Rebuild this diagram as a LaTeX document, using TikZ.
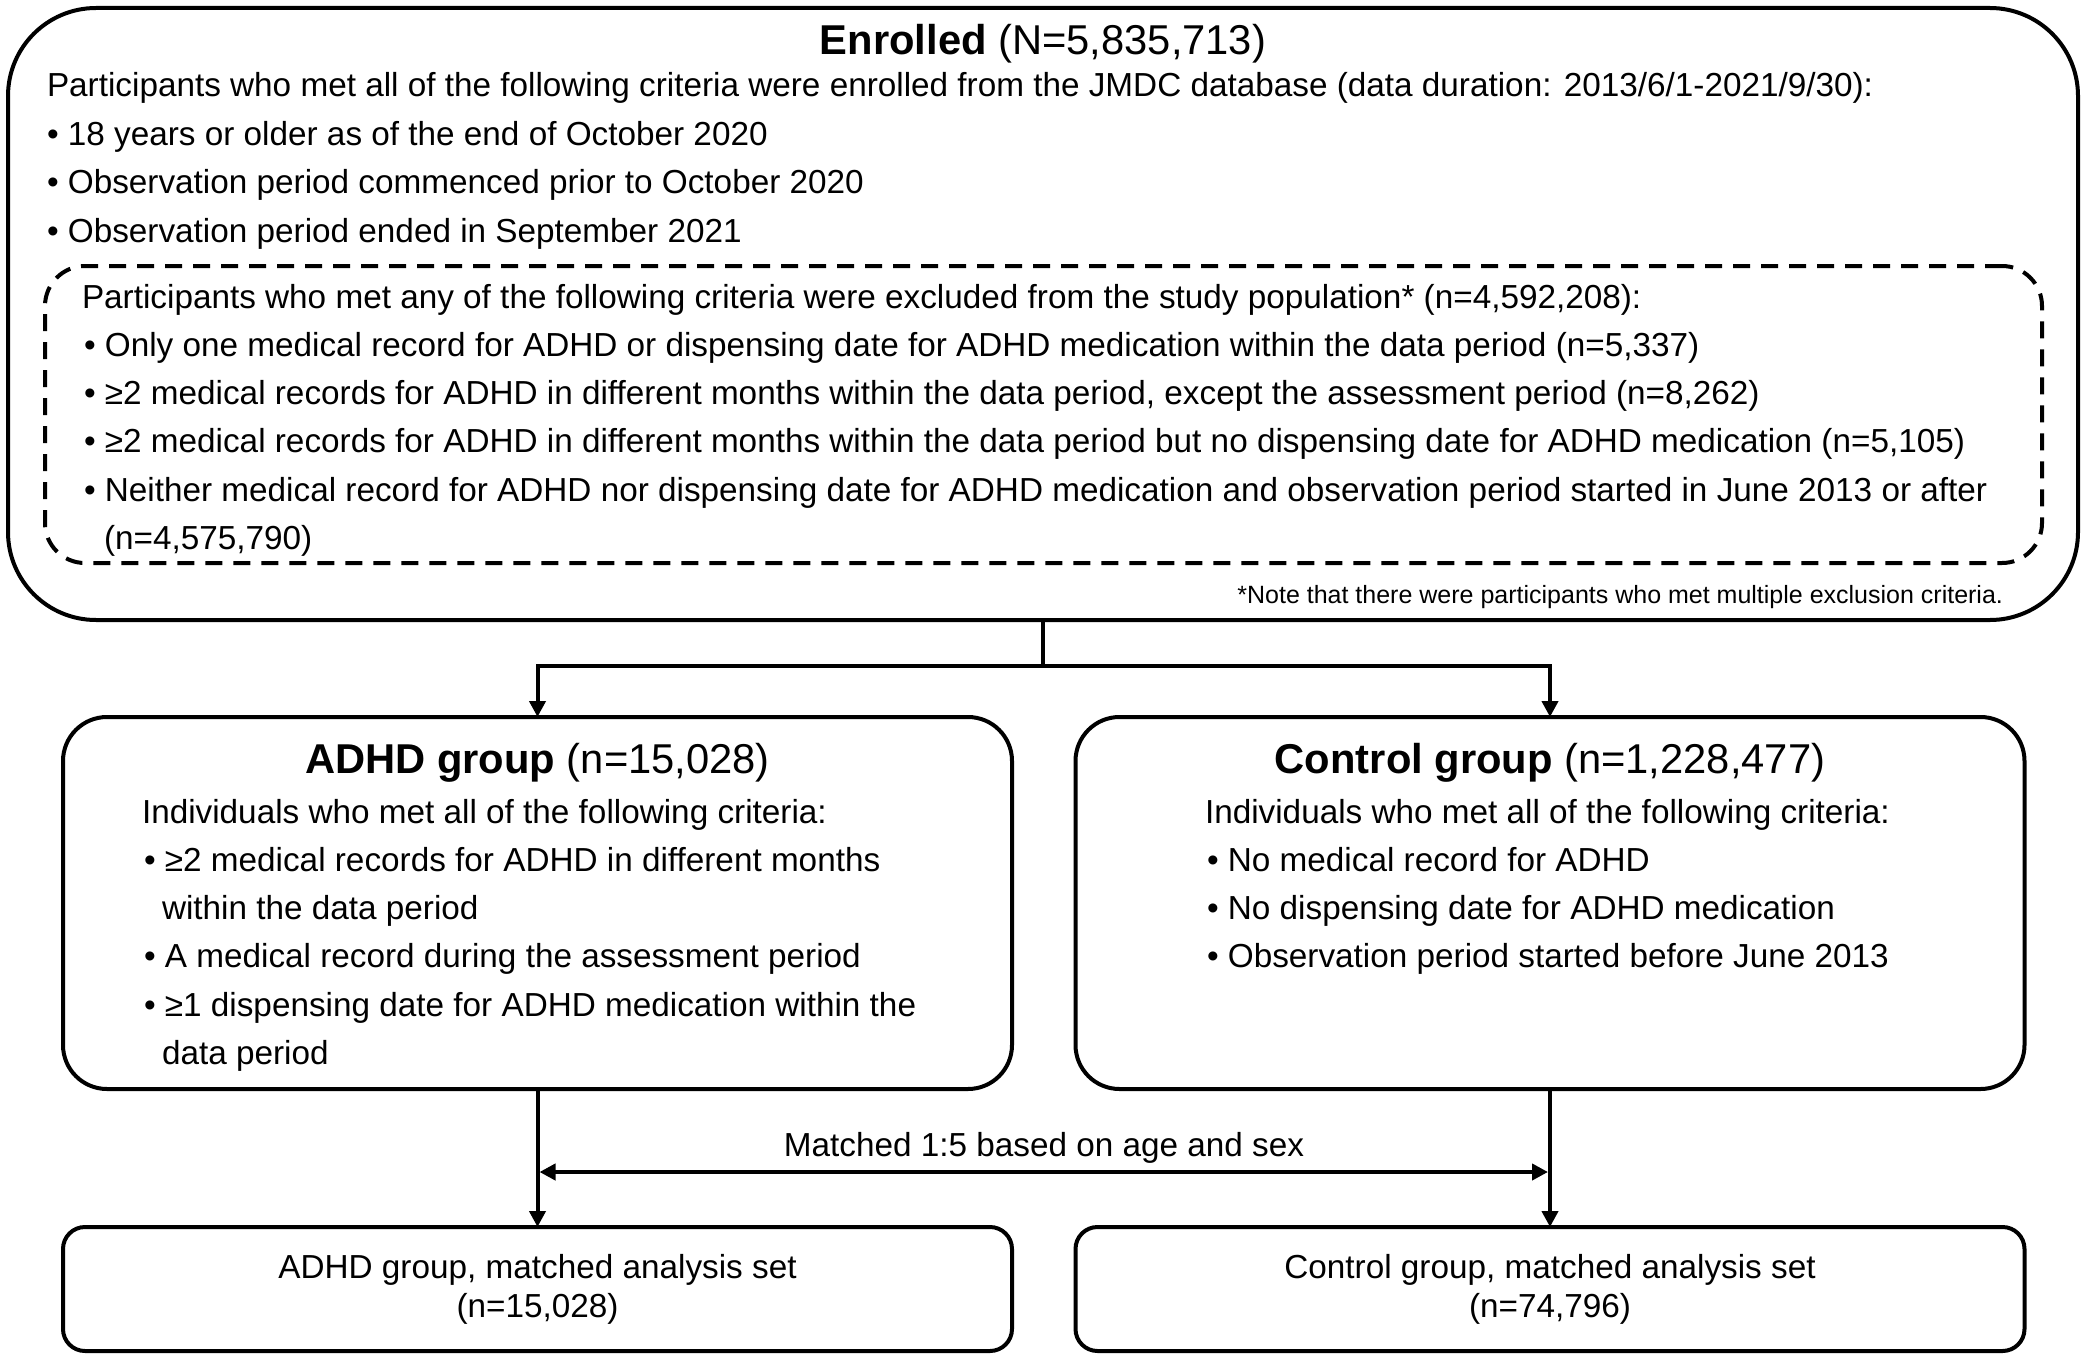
\documentclass[tikz,border=0pt]{standalone}
\usepackage{fontspec}
\setmainfont{Liberation Sans}
\usetikzlibrary{arrows.meta}
\begin{document}
\begin{tikzpicture}[x=1pt,y=-1pt,
  every node/.style={inner sep=0pt, outer sep=0pt},
  bigbox/.style={draw, line width=4pt, rounded corners=88pt},
  dbox/.style={draw, line width=4pt, rounded corners=40pt, dash pattern=on 17pt off 11pt},
  gbox/.style={draw, line width=4pt, rounded corners=44pt, minimum width=949pt, minimum height=372pt},
  mbox/.style={draw, line width=4pt, rounded corners=22pt, minimum width=949pt, minimum height=124pt},
  body/.style={anchor=base west, font=\fontsize{33.3pt}{40pt}\selectfont},
  cbody/.style={anchor=base, font=\fontsize{33.3pt}{40pt}\selectfont},
  ttl/.style={anchor=base, font=\fontsize{41.7pt}{48pt}\selectfont},
  fn/.style={anchor=base east, font=\fontsize{25pt}{30pt}\selectfont},
  conn/.style={line width=4pt},
  arr/.style={line width=4pt, -{Triangle[length=16pt,width=16pt]}},
  darr/.style={line width=4pt, {Triangle[length=16pt,width=16pt]}-{Triangle[length=16pt,width=16pt]}}
]
\useasboundingbox (0,0) rectangle (2085,1359);

% boxes
\node[bigbox, minimum width=2070pt, minimum height=612pt] (enr) at (1043,314) {};
\node[dbox, minimum width=1997pt, minimum height=297pt] (excl) at (1043.5,414.5) {};
\node[gbox] (adhd) at (537.5,903) {};
\node[gbox] (ctrl) at (1550,903) {};
\node[mbox] (adhdm) at (537.5,1289) {};
\node[mbox] (ctrlm) at (1550,1289) {};

% enrolled text
\node[ttl] (enrT) at (1043,55) {\textbf{Enrolled} (N=5,835,713)};
\node[body] (e1) at (47,97) {Participants who met all of the following criteria were enrolled from the JMDC database (data duration: 2013/6/1-2021/9/30):};
\node[body] (e2) at (47,145.3) {• 18 years or older as of the end of October 2020};
\node[body] (e3) at (47,193.6) {• Observation period commenced prior to October 2020};
\node[body] (e4) at (47,242) {• Observation period ended in September 2021};

% exclusion text
\node[body] (x0) at (82,308) {Participants who met any of the following criteria were excluded from the study population* (n=4,592,208):};
\node[body] (x1) at (84,356.3) {• Only one medical record for ADHD or dispensing date for ADHD medication within the data period (n=5,337)};
\node[body] (x2) at (84,404.6) {• ≥2 medical records for ADHD in different months within the data period, except the assessment period (n=8,262)};
\node[body] (x3) at (84,452.9) {• ≥2 medical records for ADHD in different months within the data period but no dispensing date for ADHD medication (n=5,105)};
\node[body] (x4) at (84,501.2) {• Neither medical record for ADHD nor dispensing date for ADHD medication and observation period started in June 2013 or after};
\node[body] (x5) at (104,549.5) {(n=4,575,790)};
\node[fn] (note) at (2003,603) {*Note that there were participants who met multiple exclusion criteria.};

% ADHD group text
\node[ttl] (aT) at (537.5,773) {\textbf{ADHD group} (n=15,028)};
\node[body] (a0) at (142,823) {Individuals who met all of the following criteria:};
\node[body] (a1) at (144,871.3) {• ≥2 medical records for ADHD in different months};
\node[body] (a2) at (162,919.6) {within the data period};
\node[body] (a3) at (144,967.9) {• A medical record during the assessment period};
\node[body] (a4) at (144,1016.2) {• ≥1 dispensing date for ADHD medication within the};
\node[body] (a5) at (162,1064.5) {data period};

% Control group text
\node[ttl] (cT) at (1550,773) {\textbf{Control group} (n=1,228,477)};
\node[body] (c0) at (1205,823) {Individuals who met all of the following criteria:};
\node[body] (c1) at (1207,871.3) {• No medical record for ADHD};
\node[body] (c2) at (1207,919.6) {• No dispensing date for ADHD medication};
\node[body] (c3) at (1207,967.9) {• Observation period started before June 2013};

% matched boxes text
\node[cbody] (m1) at (537.5,1278) {ADHD group, matched analysis set};
\node[cbody] (m2) at (537.5,1317) {(n=15,028)};
\node[cbody] (n1) at (1550,1278) {Control group, matched analysis set};
\node[cbody] (n2) at (1550,1317) {(n=74,796)};

% connectors
\coordinate (split) at (1043,666);
\draw[conn] (enr.south) -- (split);
\draw[arr] (split) -| (adhd.north);
\draw[arr] (split) -| (ctrl.north);
\draw[arr] (adhd.south) -- (adhdm.north);
\draw[arr] (ctrl.south) -- (ctrlm.north);
\coordinate (mL) at (539.5,1172);
\coordinate (mR) at (1548,1172);
\draw[darr] (mL) -- (mR);
\node[cbody] (mlbl) at (1044,1156) {Matched 1:5 based on age and sex};
\end{tikzpicture}
\end{document}
